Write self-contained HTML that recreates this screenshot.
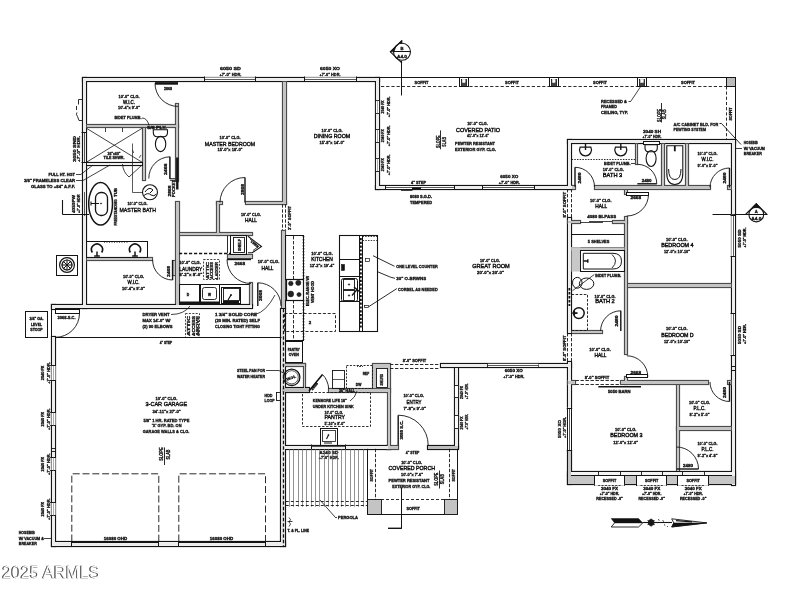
<!DOCTYPE html>
<html><head><meta charset="utf-8"><title>Floor Plan</title>
<style>
html,body{margin:0;padding:0;background:#fff;}
body{width:800px;height:600px;overflow:hidden;}
svg{display:block;will-change:transform;}
.t{font-family:"Liberation Sans",sans-serif;font-weight:bold;fill:#111;stroke:#111;stroke-width:.3;}
.tb{font-family:"Liberation Sans",sans-serif;font-weight:normal;fill:#111;stroke:#111;stroke-width:.4;}
.wm{font-family:"Liberation Sans",sans-serif;fill:#4a4a4a;stroke:#4a4a4a;stroke-width:.5;}
.wm2{font-family:"Liberation Sans",sans-serif;fill:#fff;stroke:none;}
</style></head><body>
<svg width="800" height="600" viewBox="0 0 800 600">
<rect x="0" y="0" width="800" height="600" fill="#fff"/>
<g fill="none" stroke="#141414" stroke-width="1">
<rect x="50.5" y="309.2" width="6" height="27.8" fill="#fff" stroke="none"/>
</g>
<g fill="none" stroke="#141414" stroke-width="1.2">
<rect x="82.5" y="77.5" width="297" height="4"/>
<rect x="82.5" y="77.5" width="4" height="231"/>
<rect x="86.5" y="124.5" width="92" height="3" stroke="#4c4c4c"/>
<rect x="175.5" y="103.5" width="3" height="78" stroke="#4c4c4c"/>
<rect x="175.5" y="201.5" width="4" height="104" stroke="#4c4c4c"/>
<rect x="142.5" y="127.5" width="3" height="53" stroke="#4c4c4c"/>
<rect x="86.5" y="257.5" width="66" height="3" stroke="#4c4c4c"/>
<rect x="172.5" y="260.5" width="3" height="15" stroke="#4c4c4c"/>
<rect x="179.5" y="232.5" width="73" height="3" stroke="#4c4c4c"/>
<rect x="216.5" y="201.5" width="3" height="34" stroke="#4c4c4c"/>
<rect x="216.5" y="201.5" width="6" height="3" stroke="#4c4c4c"/>
<rect x="245.5" y="201.5" width="41" height="3" stroke="#4c4c4c"/>
<rect x="282.5" y="81.5" width="4" height="123" stroke="#4c4c4c"/>
<rect x="281.5" y="230.5" width="4" height="78" stroke="#4c4c4c"/>
<rect x="280.5" y="308.5" width="5" height="238"/>
<rect x="375.5" y="77.5" width="4" height="112"/>
<rect x="375.5" y="185.5" width="197" height="4"/>
<rect x="227.5" y="254.5" width="25" height="4" stroke="#4c4c4c"/>
<rect x="249.5" y="282.5" width="3" height="24" stroke="#4c4c4c"/>
<rect x="51.5" y="304.5" width="201" height="4"/>
<rect x="51.5" y="304.5" width="4" height="5"/>
<rect x="51.5" y="336.5" width="4" height="210"/>
<rect x="51.5" y="541.5" width="234" height="5"/>
<rect x="567.5" y="139.5" width="4" height="50"/>
<rect x="567.5" y="217.5" width="4" height="116"/>
<rect x="567.5" y="361.5" width="4" height="47"/>
<rect x="567.5" y="139.5" width="168" height="4"/>
<rect x="731.5" y="139.5" width="4" height="346"/>
<rect x="635.5" y="143.5" width="2" height="21" stroke="#4c4c4c"/>
<rect x="661.5" y="143.5" width="3" height="45" stroke="#4c4c4c"/>
<rect x="685.5" y="143.5" width="3" height="45" stroke="#4c4c4c"/>
<rect x="594.5" y="185.5" width="116" height="4" stroke="#4c4c4c"/>
<rect x="571.5" y="185.5" width="4" height="4" stroke="#4c4c4c"/>
<rect x="727.5" y="185.5" width="4" height="4" stroke="#4c4c4c"/>
<rect x="624.5" y="189.5" width="3" height="5" stroke="#4c4c4c"/>
<rect x="624.5" y="216.5" width="3" height="138" stroke="#4c4c4c"/>
<rect x="567.5" y="220.5" width="13" height="3" stroke="#4c4c4c"/>
<rect x="612.5" y="220.5" width="15" height="3" stroke="#4c4c4c"/>
<rect x="627.5" y="283.5" width="104" height="4" stroke="#4c4c4c"/>
<rect x="571.5" y="330.5" width="31" height="3" stroke="#4c4c4c"/>
<rect x="624.5" y="376.5" width="3" height="8" stroke="#4c4c4c"/>
<rect x="620.5" y="380.5" width="88" height="4" stroke="#4c4c4c"/>
<rect x="727.5" y="380.5" width="4" height="4" stroke="#4c4c4c"/>
<rect x="567.5" y="380.5" width="8" height="4" stroke="#4c4c4c"/>
<rect x="676.5" y="384.5" width="3" height="87" stroke="#4c4c4c"/>
<rect x="676.5" y="426.5" width="55" height="4" stroke="#4c4c4c"/>
<rect x="440.5" y="363.5" width="131" height="4"/>
<rect x="454.5" y="367.5" width="4" height="81"/>
<rect x="427.5" y="445.5" width="31" height="4"/>
<rect x="386.5" y="445.5" width="12" height="4" stroke="#4c4c4c"/>
<rect x="283.5" y="445.5" width="107" height="4"/>
<rect x="328.5" y="388.5" width="62" height="4" stroke="#4c4c4c"/>
<rect x="387.5" y="388.5" width="3" height="61" stroke="#4c4c4c"/>
<rect x="567.5" y="471.5" width="168" height="4"/>
<rect x="567.5" y="475.5" width="168" height="9"/>
<rect x="567.5" y="450.5" width="4" height="34"/>
<rect x="86.5" y="162.5" width="56" height="3"/>
<rect x="281.5" y="363.5" width="24" height="3" stroke="#4c4c4c"/>
<rect x="303.5" y="363.5" width="2" height="26" stroke="#4c4c4c"/>
<rect x="281.5" y="387.5" width="28" height="5"/>
<rect x="372.5" y="363.5" width="18" height="25" stroke="#4c4c4c"/>
</g>
<g stroke="none">
<rect x="83" y="78" width="296" height="3" fill="#ededed"/>
<rect x="83" y="78" width="3" height="230" fill="#ededed"/>
<rect x="87" y="125" width="91" height="2" fill="#c4c4c4"/>
<rect x="176" y="104" width="2" height="77" fill="#c4c4c4"/>
<rect x="176" y="202" width="3" height="103" fill="#c4c4c4"/>
<rect x="143" y="128" width="2" height="52" fill="#c4c4c4"/>
<rect x="87" y="258" width="65" height="2" fill="#c4c4c4"/>
<rect x="173" y="261" width="2" height="14" fill="#c4c4c4"/>
<rect x="180" y="233" width="72" height="2" fill="#c4c4c4"/>
<rect x="217" y="202" width="2" height="33" fill="#c4c4c4"/>
<rect x="217" y="202" width="5" height="2" fill="#c4c4c4"/>
<rect x="246" y="202" width="40" height="2" fill="#c4c4c4"/>
<rect x="283" y="82" width="3" height="122" fill="#c4c4c4"/>
<rect x="282" y="231" width="3" height="77" fill="#c4c4c4"/>
<rect x="281" y="309" width="4" height="237" fill="#e4e4e4"/>
<rect x="376" y="78" width="3" height="111" fill="#ededed"/>
<rect x="376" y="186" width="196" height="3" fill="#ededed"/>
<rect x="228" y="255" width="24" height="3" fill="#c4c4c4"/>
<rect x="250" y="283" width="2" height="23" fill="#c4c4c4"/>
<rect x="52" y="305" width="200" height="3" fill="#ededed"/>
<rect x="52" y="305" width="3" height="4" fill="#ededed"/>
<rect x="52" y="337" width="3" height="209" fill="#ededed"/>
<rect x="52" y="542" width="233" height="4" fill="#ededed"/>
<rect x="568" y="140" width="3" height="49" fill="#ededed"/>
<rect x="568" y="218" width="3" height="115" fill="#ededed"/>
<rect x="568" y="362" width="3" height="46" fill="#ededed"/>
<rect x="568" y="140" width="167" height="3" fill="#ededed"/>
<rect x="732" y="140" width="3" height="345" fill="#ededed"/>
<rect x="636" y="144" width="1" height="20" fill="#c4c4c4"/>
<rect x="662" y="144" width="2" height="44" fill="#c4c4c4"/>
<rect x="686" y="144" width="2" height="44" fill="#c4c4c4"/>
<rect x="595" y="186" width="115" height="3" fill="#c4c4c4"/>
<rect x="572" y="186" width="3" height="3" fill="#c4c4c4"/>
<rect x="728" y="186" width="3" height="3" fill="#c4c4c4"/>
<rect x="625" y="190" width="2" height="4" fill="#c4c4c4"/>
<rect x="625" y="217" width="2" height="137" fill="#c4c4c4"/>
<rect x="568" y="221" width="12" height="2" fill="#c4c4c4"/>
<rect x="613" y="221" width="14" height="2" fill="#c4c4c4"/>
<rect x="628" y="284" width="103" height="3" fill="#c4c4c4"/>
<rect x="572" y="331" width="30" height="2" fill="#c4c4c4"/>
<rect x="625" y="377" width="2" height="7" fill="#c4c4c4"/>
<rect x="621" y="381" width="87" height="3" fill="#c4c4c4"/>
<rect x="728" y="381" width="3" height="3" fill="#c4c4c4"/>
<rect x="568" y="381" width="7" height="3" fill="#c4c4c4"/>
<rect x="677" y="385" width="2" height="86" fill="#c4c4c4"/>
<rect x="677" y="427" width="54" height="3" fill="#c4c4c4"/>
<rect x="441" y="364" width="130" height="3" fill="#ededed"/>
<rect x="455" y="368" width="3" height="80" fill="#ededed"/>
<rect x="428" y="446" width="30" height="3" fill="#bdbdbd"/>
<rect x="387" y="446" width="11" height="3" fill="#c4c4c4"/>
<rect x="284" y="446" width="106" height="3" fill="#ededed"/>
<rect x="329" y="389" width="61" height="3" fill="#c4c4c4"/>
<rect x="388" y="389" width="2" height="60" fill="#c4c4c4"/>
<rect x="568" y="472" width="167" height="3" fill="#f4f4f4"/>
<rect x="568" y="476" width="167" height="8" fill="#c6c6c6"/>
<rect x="568" y="451" width="3" height="33" fill="#c6c6c6"/>
<rect x="87" y="163" width="55" height="2" fill="#eee"/>
<rect x="282" y="364" width="23" height="2" fill="#c4c4c4"/>
<rect x="304" y="364" width="1" height="25" fill="#c4c4c4"/>
<rect x="282" y="388" width="27" height="4" fill="#bdbdbd"/>
<rect x="373" y="364" width="17" height="24" fill="#c4c4c4"/>
</g>
<g fill="none" stroke="#141414" stroke-width="1" stroke-linecap="butt">
<rect x="204.2" y="77.6" width="51.6" height="3" stroke-width="0.3" fill="#fff" stroke="#fff"/>
<line x1="204.2" y1="79.5" x2="255.8" y2="79.5" stroke-width="0.7"/>
<line x1="204.5" y1="76.5" x2="204.5" y2="81.7"/>
<line x1="255.5" y1="76.5" x2="255.5" y2="81.7"/>
<rect x="304.4" y="77.6" width="52" height="3" stroke-width="0.3" fill="#fff" stroke="#fff"/>
<line x1="304.4" y1="79.5" x2="356.4" y2="79.5" stroke-width="0.7"/>
<line x1="304.5" y1="76.5" x2="304.5" y2="81.7"/>
<line x1="356.5" y1="76.5" x2="356.5" y2="81.7"/>
<text class="t" x="230.5" y="70.3" font-size="4.2" textLength="21" lengthAdjust="spacingAndGlyphs" text-anchor="middle">6050 SD</text>
<text class="t" x="230.5" y="75.6" font-size="4.2" textLength="22" lengthAdjust="spacingAndGlyphs" text-anchor="middle">+7'-0&quot; HDR.</text>
<text class="t" x="330" y="70.3" font-size="4.2" textLength="20" lengthAdjust="spacingAndGlyphs" text-anchor="middle">6050 XO</text>
<text class="t" x="330" y="75.6" font-size="4.2" textLength="21" lengthAdjust="spacingAndGlyphs" text-anchor="middle">+7'-0&quot; HDR.</text>
<line x1="178" y1="83.4" x2="155" y2="83.4" stroke-width="2.6"/>
<path d="M155 83.4 A23 23 0 0 0 178 106.4" stroke-width="0.9"/>
<text class="t" x="168" y="89.5" font-size="3.8" textLength="8" lengthAdjust="spacingAndGlyphs" text-anchor="middle">2868</text>
<text class="t" x="129" y="97.5" font-size="4.2" textLength="21" lengthAdjust="spacingAndGlyphs" text-anchor="middle">10'-0&quot; CLG.</text>
<text class="tb" x="129" y="103.5" font-size="5" textLength="12" lengthAdjust="spacingAndGlyphs" text-anchor="middle">W.I.C.</text>
<text class="t" x="129" y="109.1" font-size="4.2" textLength="22" lengthAdjust="spacingAndGlyphs" text-anchor="middle">10'-4&quot;x 9'-0&quot;</text>
<text class="t" x="114.5" y="119.3" font-size="4.2" textLength="27" lengthAdjust="spacingAndGlyphs">BIDET PLUMB.</text>
<path d="M142 118 Q147 118 149 125" stroke-width="0.8"/>
<path d="M82 99.5 H78.5 V104.5 M76.5 106 V110 M77 112.5 Q75.5 114 77.5 116.5 L79 120.5 H82" stroke-width="0.9"/>
<line x1="86" y1="128" x2="142.5" y2="162.5" stroke-width="0.8"/>
<line x1="142.5" y1="128" x2="86" y2="162.5" stroke-width="0.8"/>
<line x1="105.5" y1="128" x2="105.5" y2="132" stroke-width="0.8"/>
<line x1="122.5" y1="128" x2="122.5" y2="132" stroke-width="0.8"/>
<text class="t" x="114" y="154.6" font-size="3.8" textLength="13" lengthAdjust="spacingAndGlyphs" text-anchor="middle">36&quot;x60&quot;</text>
<text class="t" x="114" y="158.8" font-size="3.8" textLength="21" lengthAdjust="spacingAndGlyphs" text-anchor="middle">TILE SHWR.</text>
<line x1="84.5" y1="132" x2="84.5" y2="162" stroke-width="0.7"/>
<line x1="81.5" y1="132.5" x2="86.5" y2="132.5"/>
<line x1="81.5" y1="162.5" x2="86.5" y2="162.5"/>
<text class="t" x="75.5" y="162" font-size="4" textLength="26" lengthAdjust="spacingAndGlyphs" transform="rotate(-90 75.5 162)">3050 SND</text>
<text class="t" x="80" y="162" font-size="4" textLength="26" lengthAdjust="spacingAndGlyphs" transform="rotate(-90 80 162)">+7'-0&quot; HDR.</text>
<path d="M122.5 164 Q123 172 129 177" stroke-width="0.8"/>
<line x1="129" y1="177" x2="142" y2="165" stroke-width="0.8"/>
<line x1="132.5" y1="143.5" x2="132.5" y2="192.5" stroke-width="0.7"/>
<line x1="132.5" y1="192.5" x2="142.5" y2="192.5" stroke-width="0.7"/>
<path d="M132.5 150 l1.2 3 M141 155 l-2 3" stroke-width="0.7"/>
<circle cx="150" cy="192.3" r="7.5" stroke-width="1.1"/>
<path d="M145 192 Q149 186 153 190 L150 193 M144 195.5 Q148 192 151 195 Q154 197 156.5 194"/>
<text class="t" x="75" y="175.6" font-size="4" textLength="26.5" lengthAdjust="spacingAndGlyphs" text-anchor="end">FULL HT. HGT</text>
<line x1="76" y1="174.5" x2="81" y2="174.5" stroke-width="0.8"/>
<line x1="81" y1="174.3" x2="93" y2="165" stroke-width="0.8"/>
<text class="t" x="75" y="181.8" font-size="4" textLength="51" lengthAdjust="spacingAndGlyphs" text-anchor="end">3/8&quot; FRAMELESS CLEAR</text>
<line x1="76" y1="180.5" x2="83" y2="180.5" stroke-width="0.8"/>
<line x1="83" y1="180.5" x2="110" y2="165" stroke-width="0.8"/>
<text class="t" x="75" y="188.3" font-size="4" textLength="44" lengthAdjust="spacingAndGlyphs" text-anchor="end">GLASS TO +84&quot; A.F.F.</text>
<path d="M153.3 129.8 H167.5 V132.5 Q167.5 136.5 163.5 136.8 H157.3 Q153.3 136.5 153.3 132.5 Z" stroke-width="1.1"/>
<ellipse cx="160.6" cy="144" rx="5.2" ry="7.6" stroke-width="1.1"/>
<text class="t" x="157" y="128.8" font-size="3.6" textLength="19.5" lengthAdjust="spacingAndGlyphs" text-anchor="middle">5/8 PLY.</text>
<line x1="169.9" y1="179" x2="169.9" y2="156.8" stroke-width="1.5"/>
<path d="M169.9 156.8 A21.5 21.5 0 0 0 148.8 178.5" stroke-width="0.9"/>
<path d="M169.9 178.7 H175.6 M169.9 180.3 H175.6" stroke-width="0.9"/>
<line x1="177.3" y1="157.5" x2="177.3" y2="189.5" stroke-width="2.4"/>
<text class="t" x="166.8" y="175" font-size="3.6" textLength="11.5" lengthAdjust="spacingAndGlyphs" transform="rotate(-90 166.8 175)">2468</text>
<text class="t" x="170.6" y="196.5" font-size="3.6" textLength="11" lengthAdjust="spacingAndGlyphs" transform="rotate(-90 170.6 196.5)">2868</text>
<text class="t" x="174.6" y="197" font-size="3.6" textLength="17" lengthAdjust="spacingAndGlyphs" transform="rotate(-90 174.6 197)">POCKET</text>
<ellipse cx="100.6" cy="203.8" rx="11.9" ry="21.2" stroke-width="1.5"/>
<rect x="95.5" y="192.5" width="12" height="23" stroke-width="1.3" rx="5.5" ry="5.5"/>
<path d="M99 203.5 h-8 M91 201.5 v4" stroke-width="1.1"/>
<circle cx="101" cy="203.5" r="0.6" stroke-width="0.6" fill="#141414"/>
<text class="t" x="116.5" y="225.5" font-size="3.8" textLength="26" lengthAdjust="spacingAndGlyphs" transform="rotate(-90 116.5 225.5)">FREESTANDING</text>
<text class="t" x="116.5" y="197" font-size="3.8" textLength="9" lengthAdjust="spacingAndGlyphs" transform="rotate(-90 116.5 197)">TUB</text>
<text class="t" x="137.5" y="205.2" font-size="4.2" textLength="20" lengthAdjust="spacingAndGlyphs" text-anchor="middle">10'-0&quot; CLG.</text>
<text class="tb" x="137.7" y="212" font-size="6" textLength="36.5" lengthAdjust="spacingAndGlyphs" text-anchor="middle">MASTER BATH</text>
<line x1="84.5" y1="192" x2="84.5" y2="216" stroke-width="0.7"/>
<text class="t" x="74.5" y="213" font-size="4" textLength="18" lengthAdjust="spacingAndGlyphs" transform="rotate(-90 74.5 213)">4050PW</text>
<text class="t" x="79.5" y="213" font-size="4" textLength="18.5" lengthAdjust="spacingAndGlyphs" transform="rotate(-90 79.5 213)">+7'-0&quot; HDR</text>
<line x1="62.5" y1="200" x2="62.5" y2="214.5" stroke-width="1.1"/>
<line x1="62.5" y1="214.5" x2="89" y2="214.5"/>
<rect x="86.5" y="241.5" width="61" height="16"/>
<path d="M92.3 252.5 a5.5 5.5 0 1 1 9.4 0" stroke-width="1.6"/>
<line x1="94.2" y1="256" x2="99.8" y2="256" stroke-width="1.5"/>
<line x1="97" y1="251.5" x2="97" y2="256" stroke-width="1.5"/>
<path d="M130.3 252.5 a5.5 5.5 0 1 1 9.4 0" stroke-width="1.6"/>
<line x1="132.2" y1="256" x2="137.8" y2="256" stroke-width="1.5"/>
<line x1="135" y1="251.5" x2="135" y2="256" stroke-width="1.5"/>
<line x1="104" y1="242.5" x2="128" y2="242.5" stroke-width="0.6" stroke-dasharray="1 1.5"/>
<line x1="172.6" y1="260" x2="172.6" y2="280" stroke-width="1.4"/>
<path d="M172.6 280 A20 20 0 0 1 152.6 260" stroke-width="0.9"/>
<text class="t" x="170" y="277" font-size="3.8" textLength="11" lengthAdjust="spacingAndGlyphs" transform="rotate(-90 170 277)">2468</text>
<text class="t" x="133.5" y="277.5" font-size="4.2" textLength="21" lengthAdjust="spacingAndGlyphs" text-anchor="middle">10'-0&quot; CLG.</text>
<text class="tb" x="133.5" y="283.7" font-size="5" textLength="12" lengthAdjust="spacingAndGlyphs" text-anchor="middle">W.I.C.</text>
<text class="t" x="133.5" y="289.5" font-size="4.2" textLength="23" lengthAdjust="spacingAndGlyphs" text-anchor="middle">10'-4&quot;x 9'-0&quot;</text>
<rect x="56.5" y="255.5" width="21" height="20"/>
<circle cx="67" cy="265" r="7.4" stroke-width="1.2"/>
<circle cx="67" cy="265" r="5" stroke-width="1.2"/>
<path d="M63 261 l8 8 M71 261 l-8 8 M67 259.5 v11 M61.5 265 h11"/>
<text class="t" x="230" y="139.2" font-size="4.2" textLength="21" lengthAdjust="spacingAndGlyphs" text-anchor="middle">10'-0&quot; CLG.</text>
<text class="tb" x="230" y="145.5" font-size="6.2" textLength="50.5" lengthAdjust="spacingAndGlyphs" text-anchor="middle">MASTER BEDROOM</text>
<text class="t" x="230" y="151.2" font-size="4.2" textLength="25" lengthAdjust="spacingAndGlyphs" text-anchor="middle">15'-0&quot;x 18'-0&quot;</text>
<line x1="245" y1="202.5" x2="245" y2="177.5" stroke-width="1.4"/>
<path d="M245 177.5 A25 25 0 0 0 220 202.5" stroke-width="0.9"/>
<text class="t" x="243.5" y="195" font-size="3.8" textLength="11" lengthAdjust="spacingAndGlyphs" transform="rotate(-90 243.5 195)">2868</text>
<text class="t" x="332" y="131.5" font-size="4.2" textLength="21" lengthAdjust="spacingAndGlyphs" text-anchor="middle">10'-0&quot; CLG.</text>
<text class="tb" x="332" y="137.7" font-size="5.6" textLength="36.5" lengthAdjust="spacingAndGlyphs" text-anchor="middle">DINING ROOM</text>
<text class="t" x="332" y="143.5" font-size="4.2" textLength="25" lengthAdjust="spacingAndGlyphs" text-anchor="middle">15'-8&quot;x 14'-0&quot;</text>
<rect x="375.5" y="100.5" width="4" height="13" stroke-width="0.9" fill="#fff"/>
<line x1="377.5" y1="100.2" x2="377.5" y2="113.6" stroke-width="0.6" stroke="#777"/>
<text class="t" x="384.4" y="113.4" font-size="3.6" textLength="13" lengthAdjust="spacingAndGlyphs" transform="rotate(-90 384.4 113.4)">2040 FX</text>
<text class="t" x="390.3" y="117.3" font-size="3.6" textLength="20.8" lengthAdjust="spacingAndGlyphs" transform="rotate(-90 390.3 117.3)">+7'-0&quot; HDR.</text>
<rect x="375.5" y="129.5" width="4" height="13" stroke-width="0.9" fill="#fff"/>
<line x1="377.5" y1="129.5" x2="377.5" y2="142" stroke-width="0.6" stroke="#777"/>
<text class="t" x="384.4" y="142.25" font-size="3.6" textLength="13" lengthAdjust="spacingAndGlyphs" transform="rotate(-90 384.4 142.25)">2040 FX</text>
<text class="t" x="390.3" y="146.15" font-size="3.6" textLength="20.8" lengthAdjust="spacingAndGlyphs" transform="rotate(-90 390.3 146.15)">+7'-0&quot; HDR.</text>
<rect x="375.5" y="158.5" width="4" height="13" stroke-width="0.9" fill="#fff"/>
<line x1="377.5" y1="158.5" x2="377.5" y2="171" stroke-width="0.6" stroke="#777"/>
<text class="t" x="384.4" y="171.25" font-size="3.6" textLength="13" lengthAdjust="spacingAndGlyphs" transform="rotate(-90 384.4 171.25)">2040 FX</text>
<text class="t" x="390.3" y="175.15" font-size="3.6" textLength="20.8" lengthAdjust="spacingAndGlyphs" transform="rotate(-90 390.3 175.15)">+7'-0&quot; HDR.</text>
<line x1="282.5" y1="204.3" x2="282.5" y2="230" stroke-width="0.9" stroke-dasharray="3.4 1.6"/>
<line x1="285.5" y1="204.3" x2="285.5" y2="230" stroke-width="0.9" stroke-dasharray="3.4 1.6"/>
<text class="t" x="290.5" y="230" font-size="3.8" textLength="24" lengthAdjust="spacingAndGlyphs" transform="rotate(-90 290.5 230)">3'-0&quot; SOFFIT</text>
<text class="t" x="251" y="216" font-size="4.2" textLength="20" lengthAdjust="spacingAndGlyphs" text-anchor="middle">10'-0&quot; CLG.</text>
<text class="tb" x="251" y="222.3" font-size="5.2" textLength="12" lengthAdjust="spacingAndGlyphs" text-anchor="middle">HALL</text>
<text class="t" x="268.5" y="263.3" font-size="4.2" textLength="21.5" lengthAdjust="spacingAndGlyphs" text-anchor="middle">10'-0&quot; CLG.</text>
<text class="tb" x="267.5" y="269.8" font-size="5.2" textLength="12" lengthAdjust="spacingAndGlyphs" text-anchor="middle">HALL</text>
<rect x="230.5" y="235.5" width="16" height="19"/>
<rect x="233.5" y="237.5" width="11" height="15" stroke-width="0.9"/>
<text class="t" x="240.5" y="251" font-size="3.6" textLength="12" lengthAdjust="spacingAndGlyphs" transform="rotate(-90 240.5 251)">SHELF</text>
<path d="M248 236.3 L261.5 246.5 L252.2 252.8 L248 252.8" stroke-width="1.1"/>
<path d="M250 239 L258.5 246.5 L253 250.5" stroke-width="0.8"/>
<text class="t" x="250.5" y="242" font-size="3.2" textLength="9" lengthAdjust="spacingAndGlyphs" transform="rotate(40 250.5 242)">LINEN</text>
<line x1="227.5" y1="235.7" x2="227.5" y2="253.3" stroke-width="0.9"/>
<line x1="179" y1="253.5" x2="230" y2="253.5" stroke-width="1.3" stroke-dasharray="3.2 1.8"/>
<line x1="251" y1="259.5" x2="227" y2="259.5" stroke-width="1.4"/>
<path d="M227 259.5 A24 24 0 0 0 251 283.5" stroke-width="0.9"/>
<text class="t" x="239.8" y="264.8" font-size="3.8" textLength="10.5" lengthAdjust="spacingAndGlyphs" text-anchor="middle">2668</text>
<text class="t" x="179.3" y="264" font-size="4.2" textLength="21.5" lengthAdjust="spacingAndGlyphs">10'-0&quot; CLG.</text>
<text class="tb" x="179.3" y="270.6" font-size="5.4" textLength="23" lengthAdjust="spacingAndGlyphs">LAUNDRY</text>
<text class="t" x="179.3" y="276" font-size="4.2" textLength="23" lengthAdjust="spacingAndGlyphs">8'-2&quot;x 8'-0&quot;</text>
<rect x="203.5" y="259.5" width="16" height="20" stroke-width="0.8" stroke-dasharray="2 1.4"/>
<text class="t" x="208.5" y="279" font-size="4" textLength="17" lengthAdjust="spacingAndGlyphs" transform="rotate(-90 208.5 279)">ATTIC</text>
<text class="t" x="213" y="279" font-size="4" textLength="17" lengthAdjust="spacingAndGlyphs" transform="rotate(-90 213 279)">ACCESS</text>
<text class="t" x="218" y="279" font-size="4" textLength="17" lengthAdjust="spacingAndGlyphs" transform="rotate(-90 218 279)">LADDER</text>
<line x1="179" y1="284.5" x2="249.3" y2="284.5"/>
<rect x="179.5" y="284.5" width="20" height="19"/>
<text class="t" x="188" y="295.5" font-size="3.6" textLength="2.5" lengthAdjust="spacingAndGlyphs" text-anchor="middle">D</text>
<rect x="200.5" y="284.5" width="19" height="19"/>
<rect x="202.5" y="287.5" width="14" height="12" stroke-width="0.9" rx="2"/>
<text class="t" x="209.5" y="295.5" font-size="3.6" textLength="3" lengthAdjust="spacingAndGlyphs" text-anchor="middle">W</text>
<rect x="221.5" y="287.5" width="19" height="16"/>
<rect x="223.5" y="288.5" width="16" height="12" stroke-width="0.9"/>
<circle cx="231" cy="295" r="0.7" stroke-width="0.6" fill="#141414"/>
<path d="M231 295 l-3 5 M226 301.5 h8" stroke-width="1.2"/>
<line x1="179.5" y1="302.4" x2="219.5" y2="302.4" stroke-width="2"/>
<line x1="223" y1="302" x2="239" y2="302" stroke-width="2"/>
<line x1="257.8" y1="306" x2="257.8" y2="282.8" stroke-width="1.4"/>
<path d="M257.8 282.8 A23.2 23.2 0 0 1 281 306" stroke-width="0.9"/>
<text class="t" x="262" y="301" font-size="3.6" textLength="11" lengthAdjust="spacingAndGlyphs" transform="rotate(-90 262 301)">3068</text>
<rect x="25.5" y="311.5" width="22" height="26"/>
<text class="t" x="36.5" y="320.3" font-size="3.8" textLength="14" lengthAdjust="spacingAndGlyphs" text-anchor="middle">3/4&quot; GA.</text>
<text class="t" x="36.5" y="325.6" font-size="3.8" textLength="11" lengthAdjust="spacingAndGlyphs" text-anchor="middle">LEVEL</text>
<text class="t" x="36.5" y="331" font-size="3.8" textLength="12.5" lengthAdjust="spacingAndGlyphs" text-anchor="middle">STOOP</text>
<line x1="55.5" y1="313.5" x2="79.5" y2="313.5" stroke-width="0.1"/>
<path d="M79.5 313.3 A24 24 0 0 1 55.5 337.3" stroke-width="0.9"/>
<rect x="55.5" y="309.5" width="24" height="4" fill="#fff"/>
<line x1="51.5" y1="309" x2="51.5" y2="336.5"/>
<text class="t" x="57.5" y="319" font-size="3.8" textLength="18" lengthAdjust="spacingAndGlyphs">3068-S.C.</text>
<line x1="55.5" y1="337.5" x2="281.6" y2="337.5"/>
<text class="t" x="166" y="344" font-size="3.8" textLength="12.5" lengthAdjust="spacingAndGlyphs" text-anchor="middle">4&quot; STEP</text>
<rect x="51.8" y="365.8" width="3.4" height="14.2" stroke-width="0.4" fill="#fff" stroke="#fff"/>
<line x1="50.2" y1="365.5" x2="56" y2="365.5"/>
<line x1="50.2" y1="380.5" x2="56" y2="380.5"/>
<line x1="53.5" y1="365.8" x2="53.5" y2="380" stroke-width="0.6" stroke="#777"/>
<text class="t" x="44.3" y="380.2" font-size="3.8" textLength="14.6" lengthAdjust="spacingAndGlyphs" transform="rotate(-90 44.3 380.2)">2040 FX</text>
<text class="t" x="50" y="383.7" font-size="3.8" textLength="21.6" lengthAdjust="spacingAndGlyphs" transform="rotate(-90 50 383.7)">+7'-0&quot; HDR.</text>
<rect x="51.8" y="412.5" width="3.4" height="13.3" stroke-width="0.4" fill="#fff" stroke="#fff"/>
<line x1="50.2" y1="412.5" x2="56" y2="412.5"/>
<line x1="50.2" y1="425.5" x2="56" y2="425.5"/>
<line x1="53.5" y1="412.5" x2="53.5" y2="425.8" stroke-width="0.6" stroke="#777"/>
<text class="t" x="44.3" y="426.45" font-size="3.8" textLength="14.6" lengthAdjust="spacingAndGlyphs" transform="rotate(-90 44.3 426.45)">2040 FX</text>
<text class="t" x="50" y="429.95" font-size="3.8" textLength="21.6" lengthAdjust="spacingAndGlyphs" transform="rotate(-90 50 429.95)">+7'-0&quot; HDR.</text>
<rect x="51.8" y="457.5" width="3.4" height="13.3" stroke-width="0.4" fill="#fff" stroke="#fff"/>
<line x1="50.2" y1="457.5" x2="56" y2="457.5"/>
<line x1="50.2" y1="470.5" x2="56" y2="470.5"/>
<line x1="53.5" y1="457.5" x2="53.5" y2="470.8" stroke-width="0.6" stroke="#777"/>
<text class="t" x="44.3" y="471.45" font-size="3.8" textLength="14.6" lengthAdjust="spacingAndGlyphs" transform="rotate(-90 44.3 471.45)">2040 FX</text>
<text class="t" x="50" y="474.95" font-size="3.8" textLength="21.6" lengthAdjust="spacingAndGlyphs" transform="rotate(-90 50 474.95)">+7'-0&quot; HDR.</text>
<rect x="51.8" y="502.5" width="3.4" height="13.3" stroke-width="0.4" fill="#fff" stroke="#fff"/>
<line x1="50.2" y1="502.5" x2="56" y2="502.5"/>
<line x1="50.2" y1="515.5" x2="56" y2="515.5"/>
<line x1="53.5" y1="502.5" x2="53.5" y2="515.8" stroke-width="0.6" stroke="#777"/>
<text class="t" x="44.3" y="516.45" font-size="3.8" textLength="14.6" lengthAdjust="spacingAndGlyphs" transform="rotate(-90 44.3 516.45)">2040 FX</text>
<text class="t" x="50" y="519.95" font-size="3.8" textLength="21.6" lengthAdjust="spacingAndGlyphs" transform="rotate(-90 50 519.95)">+7'-0&quot; HDR.</text>
<line x1="51" y1="448.5" x2="56" y2="448.5" stroke-width="0.9"/>
<line x1="51" y1="451.5" x2="56" y2="451.5" stroke-width="0.9"/>
<text class="t" x="142.5" y="315.8" font-size="4" textLength="27" lengthAdjust="spacingAndGlyphs">DRYER VENT</text>
<text class="t" x="142.5" y="321.7" font-size="4" textLength="28" lengthAdjust="spacingAndGlyphs">MAX 14'-0&quot; W/</text>
<text class="t" x="142.5" y="327.5" font-size="4" textLength="30" lengthAdjust="spacingAndGlyphs">(2) 90 ELBOWS</text>
<path d="M171 314.5 Q184 314.5 190 306" stroke-width="0.8"/>
<rect x="185.5" y="313.5" width="14" height="24" stroke-width="0.8" stroke-dasharray="2 1.4"/>
<text class="t" x="190" y="336" font-size="3.8" textLength="20" lengthAdjust="spacingAndGlyphs" transform="rotate(-90 190 336)">ATTIC</text>
<text class="t" x="194.5" y="336" font-size="3.8" textLength="20" lengthAdjust="spacingAndGlyphs" transform="rotate(-90 194.5 336)">ACCESS</text>
<text class="t" x="198.5" y="336" font-size="3.8" textLength="20" lengthAdjust="spacingAndGlyphs" transform="rotate(-90 198.5 336)">ABOVE</text>
<text class="t" x="166.4" y="400.2" font-size="4.2" textLength="22" lengthAdjust="spacingAndGlyphs" text-anchor="middle">10'-0&quot; CLG.</text>
<text class="tb" x="166.4" y="406.2" font-size="5.8" textLength="41.8" lengthAdjust="spacingAndGlyphs" text-anchor="middle">3-CAR GARAGE</text>
<text class="t" x="166.7" y="412.5" font-size="4.2" textLength="28.3" lengthAdjust="spacingAndGlyphs" text-anchor="middle">34'-11&quot;x 27'-0&quot;</text>
<text class="t" x="166.4" y="421.5" font-size="4.4" textLength="46" lengthAdjust="spacingAndGlyphs" text-anchor="middle">5/8&quot; 1 HR. RATED TYPE</text>
<text class="t" x="166.7" y="427.3" font-size="4.4" textLength="29.7" lengthAdjust="spacingAndGlyphs" text-anchor="middle">'X' GYP. BD. ON</text>
<text class="t" x="166" y="433" font-size="4.4" textLength="46.7" lengthAdjust="spacingAndGlyphs" text-anchor="middle">GARAGE WALLS &amp; CLG.</text>
<text class="t" x="163.3" y="460.8" font-size="4.6" textLength="13.4" lengthAdjust="spacingAndGlyphs" transform="rotate(-90 163.3 460.8)">SLOPE</text>
<text class="t" x="169.6" y="459.5" font-size="4.6" textLength="10" lengthAdjust="spacingAndGlyphs" transform="rotate(-90 169.6 459.5)">SLAB</text>
<line x1="164.5" y1="447.4" x2="164.5" y2="465" stroke-width="0.9"/>
<path d="M71.8 541.5 V473.8 H158.8 V541.5" stroke-width="0.9" stroke-dasharray="7 2.8"/>
<line x1="71.5" y1="541.7" x2="71.5" y2="546.2"/>
<line x1="158.5" y1="541.7" x2="158.5" y2="546.2"/>
<line x1="71.8" y1="542.2" x2="158.8" y2="542.2" stroke-width="1.4"/>
<path d="M178.8 541.5 V473.8 H265.5 V541.5" stroke-width="0.9" stroke-dasharray="7 2.8"/>
<line x1="178.5" y1="541.7" x2="178.5" y2="546.2"/>
<line x1="265.5" y1="541.7" x2="265.5" y2="546.2"/>
<line x1="178.8" y1="542.2" x2="265.5" y2="542.2" stroke-width="1.4"/>
<text class="t" x="115.5" y="539.5" font-size="3.8" textLength="23.5" lengthAdjust="spacingAndGlyphs" text-anchor="middle">16080 OHD</text>
<text class="t" x="221.5" y="539.5" font-size="3.8" textLength="23.5" lengthAdjust="spacingAndGlyphs" text-anchor="middle">16080 OHD</text>
<text class="t" x="18.8" y="534" font-size="3.8" textLength="16" lengthAdjust="spacingAndGlyphs">HOSEBIB</text>
<text class="t" x="18.8" y="539.5" font-size="3.8" textLength="25" lengthAdjust="spacingAndGlyphs">W/ VACUUM &amp;</text>
<text class="t" x="18.8" y="544.8" font-size="3.8" textLength="18" lengthAdjust="spacingAndGlyphs">BREAKER</text>
<line x1="44" y1="538.5" x2="51" y2="538.5" stroke-width="0.8"/>
<line x1="283.5" y1="308.7" x2="283.5" y2="546" stroke-width="1.3" stroke-dasharray="3.5 2"/>
<text class="t" x="215" y="315.8" font-size="4" textLength="42" lengthAdjust="spacingAndGlyphs">1 3/4&quot; SOLID CORE</text>
<text class="t" x="215" y="322" font-size="4" textLength="45" lengthAdjust="spacingAndGlyphs">(20 MIN. RATED) SELF</text>
<text class="t" x="215" y="327.8" font-size="4" textLength="45" lengthAdjust="spacingAndGlyphs">CLOSING TIGHT FITTING</text>
<path d="M255 314.5 Q266 312 275 295" stroke-width="0.8"/>
<rect x="285.5" y="235.5" width="18" height="44"/>
<line x1="293.5" y1="236" x2="293.5" y2="279" stroke-width="0.9" stroke-dasharray="3.4 1.6"/>
<line x1="303.5" y1="236" x2="303.5" y2="279" stroke-width="1.6" stroke-dasharray="1.5 1.5"/>
<rect x="286.5" y="279.5" width="17" height="21" stroke-width="1.2"/>
<circle cx="290.8" cy="283.5" r="2.3" stroke-width="0.5" fill="#222"/>
<circle cx="298.3" cy="282.8" r="2.6" stroke-width="0.5" fill="#222"/>
<circle cx="290.8" cy="294" r="2.9" stroke-width="0.5" fill="#222"/>
<circle cx="299" cy="294.6" r="2.1" stroke-width="0.5" fill="#222"/>
<text class="t" x="308.6" y="306" font-size="3.8" textLength="30" lengthAdjust="spacingAndGlyphs" transform="rotate(-90 308.6 306)">ELEC. RANGE W/</text>
<text class="t" x="313.8" y="303" font-size="3.8" textLength="22" lengthAdjust="spacingAndGlyphs" transform="rotate(-90 313.8 303)">VENT HOOD</text>
<rect x="285.5" y="300.5" width="18" height="40"/>
<line x1="293.5" y1="300" x2="293.5" y2="340.5" stroke-width="0.9" stroke-dasharray="3.4 1.6"/>
<line x1="303.5" y1="300" x2="303.5" y2="340" stroke-width="1.6" stroke-dasharray="1.5 1.5"/>
<rect x="284.5" y="313.5" width="51" height="18" stroke-width="0.9" stroke-dasharray="3 1.8"/>
<text class="t" x="310" y="324.3" font-size="4.2" textLength="2.5" lengthAdjust="spacingAndGlyphs" text-anchor="middle">2</text>
<rect x="285.5" y="341.5" width="17" height="21"/>
<text class="t" x="293.8" y="351" font-size="3.6" textLength="12" lengthAdjust="spacingAndGlyphs" text-anchor="middle">PANTRY</text>
<text class="t" x="293.8" y="356.3" font-size="3.6" textLength="10" lengthAdjust="spacingAndGlyphs" text-anchor="middle">OVEN</text>
<text class="t" x="322" y="254.7" font-size="4.2" textLength="21.5" lengthAdjust="spacingAndGlyphs" text-anchor="middle">10'-0&quot; CLG.</text>
<text class="tb" x="322" y="260.8" font-size="5.2" textLength="21.5" lengthAdjust="spacingAndGlyphs" text-anchor="middle">KITCHEN</text>
<text class="t" x="322" y="266.7" font-size="4.2" textLength="24.5" lengthAdjust="spacingAndGlyphs" text-anchor="middle">12'-2&quot;x 19'-4&quot;</text>
<rect x="339.5" y="235.5" width="38" height="96" stroke-width="1.1"/>
<line x1="359.5" y1="235.5" x2="359.5" y2="331"/>
<line x1="362.5" y1="235.5" x2="362.5" y2="331"/>
<line x1="360.9" y1="238" x2="360.9" y2="329" stroke-width="1.8" stroke-dasharray="2.2 1.6"/>
<line x1="339.5" y1="259.5" x2="359" y2="259.5"/>
<line x1="339.5" y1="276.5" x2="359" y2="276.5"/>
<line x1="339.5" y1="301.5" x2="359" y2="301.5"/>
<rect x="341.5" y="264.5" width="3" height="6" stroke-width="0.6" fill="#141414"/>
<rect x="341.5" y="278.5" width="16" height="23" rx="2"/>
<rect x="343.5" y="279.5" width="11" height="10" stroke-width="0.9"/>
<rect x="343.5" y="290.5" width="11" height="10" stroke-width="0.9"/>
<circle cx="349" cy="284.5" r="0.7" stroke-width="0.6" fill="#141414"/>
<circle cx="349" cy="295.5" r="0.7" stroke-width="0.6" fill="#141414"/>
<path d="M357 289.5 l-5 6 M354 287 l6 5" stroke-width="1.3"/>
<rect x="362.5" y="236.5" width="15" height="4" stroke-width="0.8" stroke-dasharray="1.5 1.2"/>
<rect x="365.5" y="258.5" width="4" height="3" stroke-width="0.7"/>
<rect x="364.5" y="305.5" width="4" height="2" stroke-width="0.7"/>
<line x1="373" y1="255.7" x2="394.5" y2="266.3" stroke-width="0.9"/>
<path d="M377 271.5 L390.5 277.2 L395 278.3" stroke-width="0.9"/>
<line x1="369" y1="306.5" x2="396.8" y2="288.6" stroke-width="0.9"/>
<text class="t" x="396.2" y="267.8" font-size="4.2" textLength="41.5" lengthAdjust="spacingAndGlyphs">ONE LEVEL COUNTER</text>
<text class="t" x="396.2" y="279.8" font-size="4.2" textLength="30" lengthAdjust="spacingAndGlyphs">30&quot; O-BRWNS</text>
<text class="t" x="398" y="291" font-size="4.2" textLength="39.7" lengthAdjust="spacingAndGlyphs">CORBEL AS NEEDED</text>
<circle cx="291.7" cy="377.3" r="8.2" stroke-width="1.3"/>
<circle cx="291.7" cy="377.3" r="6.6" stroke-width="0.7"/>
<text class="t" x="291.7" y="379" font-size="3.8" textLength="10" lengthAdjust="spacingAndGlyphs" text-anchor="middle" transform="rotate(-20 291.7 379)">W.H.</text>
<text class="t" x="237" y="372" font-size="4" textLength="28" lengthAdjust="spacingAndGlyphs">STEEL PAN FOR</text>
<text class="t" x="237" y="378.3" font-size="4" textLength="28" lengthAdjust="spacingAndGlyphs">WATER HEATER</text>
<line x1="266" y1="370.5" x2="279" y2="370.5" stroke-width="0.8"/>
<path d="M279 370.5 L285 374" stroke-width="0.8"/>
<text class="t" x="264.5" y="396.5" font-size="3.8" textLength="8" lengthAdjust="spacingAndGlyphs">HDD</text>
<text class="t" x="264.5" y="401.5" font-size="3.8" textLength="10" lengthAdjust="spacingAndGlyphs">LOOP</text>
<rect x="276.5" y="392.5" width="4" height="8" stroke-width="0.9"/>
<path d="M309 391 L322.5 374.5" stroke-width="1.6"/>
<path d="M322.5 374.5 Q328 380 328.8 389" stroke-width="0.9"/>
<text class="t" x="312.5" y="390.5" font-size="3.4" textLength="9" lengthAdjust="spacingAndGlyphs" transform="rotate(-50 312.5 390.5)">2868</text>
<rect x="332.5" y="370.5" width="12" height="18" stroke-width="0.9"/>
<line x1="332.8" y1="379.5" x2="344.8" y2="379.5" stroke-width="0.7"/>
<rect x="346.5" y="365.5" width="26" height="23" stroke-width="0.9" stroke-dasharray="2 1.4"/>
<text class="t" x="366" y="375" font-size="3.4" textLength="6.5" lengthAdjust="spacingAndGlyphs" text-anchor="middle">REF</text>
<text class="t" x="358.5" y="386.3" font-size="3.4" textLength="5.5" lengthAdjust="spacingAndGlyphs" text-anchor="middle">DW</text>
<path d="M357 367 l1.5 -1.5 l1.5 1.5 l1.5 -1.5 l1.5 1.5" stroke-width="0.8"/>
<rect x="376.5" y="368.5" width="11" height="19" stroke-width="0.9" fill="#fff"/>
<text class="t" x="383.2" y="385.5" font-size="3.2" textLength="11.5" lengthAdjust="spacingAndGlyphs" transform="rotate(-90 383.2 385.5)">SHELVES</text>
<line x1="390" y1="364.5" x2="440" y2="364.5" stroke-width="0.9" stroke-dasharray="3.4 1.6"/>
<line x1="390" y1="368.5" x2="440" y2="368.5" stroke-width="0.9" stroke-dasharray="3.4 1.6"/>
<text class="t" x="414.4" y="362" font-size="3.8" textLength="23.5" lengthAdjust="spacingAndGlyphs" text-anchor="middle">8'-0&quot; SOFFIT</text>
<text class="t" x="347" y="391.7" font-size="3.6" textLength="16" lengthAdjust="spacingAndGlyphs" text-anchor="middle">36&quot; HALL</text>
<path d="M357 391 Q355 398 350 401" stroke-width="0.8"/>
<rect x="302.5" y="392.5" width="68" height="34" stroke-width="0.9" stroke-dasharray="2.4 1.6"/>
<text class="t" x="312.8" y="401.5" font-size="4" textLength="34" lengthAdjust="spacingAndGlyphs">KENMORE LIFE 18&quot;</text>
<text class="t" x="312.8" y="407.6" font-size="4" textLength="41" lengthAdjust="spacingAndGlyphs">UNDER KITCHEN SINK</text>
<text class="t" x="333.8" y="413.6" font-size="4.2" textLength="18.5" lengthAdjust="spacingAndGlyphs" text-anchor="middle">10'-0&quot; CLG.</text>
<text class="tb" x="334.8" y="419.2" font-size="5.4" textLength="20.5" lengthAdjust="spacingAndGlyphs" text-anchor="middle">PANTRY</text>
<text class="t" x="334.8" y="425" font-size="4.2" textLength="20.5" lengthAdjust="spacingAndGlyphs" text-anchor="middle">5'-10&quot;x 8'-0&quot;</text>
<rect x="320.5" y="428.5" width="17" height="17"/>
<rect x="322.5" y="430.5" width="13" height="11" stroke-width="0.8"/>
<circle cx="328.5" cy="435" r="0.6" stroke-width="0.6" fill="#141414"/>
<path d="M328.5 435 l-2 4 M324 443 h8" stroke-width="1.1"/>
<line x1="311.5" y1="444.5" x2="311.5" y2="449.3"/>
<line x1="345.5" y1="444.5" x2="345.5" y2="449.3"/>
<line x1="311" y1="446.5" x2="345" y2="446.5" stroke-width="0.7"/>
<text class="t" x="328.8" y="453.5" font-size="3.8" textLength="19" lengthAdjust="spacingAndGlyphs" text-anchor="middle">A340 SD</text>
<text class="t" x="328.8" y="459" font-size="3.8" textLength="20" lengthAdjust="spacingAndGlyphs" text-anchor="middle">+7'-0&quot; HDR.</text>
<line x1="289.5" y1="449.2" x2="289.5" y2="506.8" stroke-width="0.7" stroke="#666"/>
<line x1="293.5" y1="449.2" x2="293.5" y2="506.8" stroke-width="0.7" stroke="#666"/>
<line x1="298.5" y1="449.2" x2="298.5" y2="506.8" stroke-width="0.7" stroke="#666"/>
<line x1="302.5" y1="449.2" x2="302.5" y2="506.8" stroke-width="0.7" stroke="#666"/>
<line x1="306.5" y1="449.2" x2="306.5" y2="506.8" stroke-width="0.7" stroke="#666"/>
<line x1="311.5" y1="449.2" x2="311.5" y2="506.8" stroke-width="0.7" stroke="#666"/>
<line x1="315.5" y1="449.2" x2="315.5" y2="506.8" stroke-width="0.7" stroke="#666"/>
<line x1="319.5" y1="449.2" x2="319.5" y2="506.8" stroke-width="0.7" stroke="#666"/>
<line x1="324.5" y1="449.2" x2="324.5" y2="506.8" stroke-width="0.7" stroke="#666"/>
<line x1="328.5" y1="449.2" x2="328.5" y2="506.8" stroke-width="0.7" stroke="#666"/>
<line x1="332.5" y1="449.2" x2="332.5" y2="506.8" stroke-width="0.7" stroke="#666"/>
<line x1="337.5" y1="449.2" x2="337.5" y2="506.8" stroke-width="0.7" stroke="#666"/>
<line x1="341.5" y1="449.2" x2="341.5" y2="506.8" stroke-width="0.7" stroke="#666"/>
<line x1="345.5" y1="449.2" x2="345.5" y2="506.8" stroke-width="0.7" stroke="#666"/>
<line x1="350.5" y1="449.2" x2="350.5" y2="506.8" stroke-width="0.7" stroke="#666"/>
<line x1="354.5" y1="449.2" x2="354.5" y2="506.8" stroke-width="0.7" stroke="#666"/>
<line x1="358.5" y1="449.2" x2="358.5" y2="506.8" stroke-width="0.7" stroke="#666"/>
<line x1="363.5" y1="449.2" x2="363.5" y2="506.8" stroke-width="0.7" stroke="#666"/>
<line x1="285.8" y1="501.5" x2="367.5" y2="501.5" stroke-width="0.9" stroke-dasharray="3 2"/>
<line x1="285.8" y1="505.5" x2="367.5" y2="505.5" stroke-width="0.9" stroke-dasharray="3 2"/>
<rect x="367.5" y="499.5" width="14" height="15" stroke-width="0.9" fill="#c4c4c4"/>
<line x1="367.5" y1="448.8" x2="367.5" y2="514"/>
<line x1="375.5" y1="448.8" x2="375.5" y2="500" stroke-width="0.9" stroke-dasharray="3.4 1.6"/>
<text class="t" x="372.8" y="481.5" font-size="3.8" textLength="12.5" lengthAdjust="spacingAndGlyphs" transform="rotate(-90 372.8 481.5)">SOFFIT</text>
<line x1="381" y1="499.5" x2="444" y2="499.5" stroke-width="0.9" stroke-dasharray="3 2"/>
<line x1="367.5" y1="514.5" x2="457.5" y2="514.5"/>
<line x1="320" y1="500" x2="335" y2="517" stroke-width="0.8"/>
<line x1="335" y1="517.5" x2="337" y2="517.5" stroke-width="0.8"/>
<text class="t" x="338" y="519" font-size="4" textLength="20" lengthAdjust="spacingAndGlyphs">PERGOLA</text>
<path d="M289 517.5 q3 2 0 4.5 q3 2 0 4.5 M287.5 521.5 h5" stroke-width="0.8"/>
<text class="t" x="287.5" y="532.3" font-size="3.8" textLength="21.5" lengthAdjust="spacingAndGlyphs">T. &amp; PL. LINE</text>
<line x1="388" y1="528.3" x2="401.7" y2="528.3" stroke-width="1.4"/>
<line x1="401.5" y1="487.8" x2="401.5" y2="528.8"/>
<line x1="454" y1="385.5" x2="458.5" y2="385.5"/>
<line x1="454" y1="397.5" x2="458.5" y2="397.5"/>
<line x1="456.5" y1="385.6" x2="456.5" y2="397.9" stroke-width="0.7"/>
<rect x="454.5" y="385.5" width="4" height="12" stroke-width="0.8" fill="#fff"/>
<text class="t" x="462.8" y="398.9" font-size="3.6" textLength="13" lengthAdjust="spacingAndGlyphs" transform="rotate(-90 462.8 398.9)">2040 FX</text>
<text class="t" x="467.8" y="398.9" font-size="3.6" textLength="15.5" lengthAdjust="spacingAndGlyphs" transform="rotate(-90 467.8 398.9)">+7'-0&quot; HDR.</text>
<line x1="454" y1="415.5" x2="458.5" y2="415.5"/>
<line x1="454" y1="428.5" x2="458.5" y2="428.5"/>
<line x1="456.5" y1="415.4" x2="456.5" y2="428.5" stroke-width="0.7"/>
<rect x="454.5" y="415.5" width="4" height="13" stroke-width="0.8" fill="#fff"/>
<text class="t" x="462.8" y="429.5" font-size="3.6" textLength="13" lengthAdjust="spacingAndGlyphs" transform="rotate(-90 462.8 429.5)">2040 FX</text>
<text class="t" x="467.8" y="429.5" font-size="3.6" textLength="15.5" lengthAdjust="spacingAndGlyphs" transform="rotate(-90 467.8 429.5)">+7'-0&quot; HDR.</text>
<text class="t" x="413.7" y="397" font-size="4.2" textLength="20.5" lengthAdjust="spacingAndGlyphs" text-anchor="middle">10'-0&quot; CLG.</text>
<text class="tb" x="414" y="404.2" font-size="6" textLength="15" lengthAdjust="spacingAndGlyphs" text-anchor="middle">ENTRY</text>
<text class="t" x="414.8" y="409.8" font-size="4.2" textLength="22.5" lengthAdjust="spacingAndGlyphs" text-anchor="middle">7'-8&quot;x 9'-0&quot;</text>
<line x1="398.2" y1="445.2" x2="398.2" y2="415.2" stroke-width="1.4"/>
<path d="M398.2 415.2 A30 30 0 0 1 428.2 445.2" stroke-width="0.9"/>
<text class="t" x="403" y="439.5" font-size="3.6" textLength="19" lengthAdjust="spacingAndGlyphs" transform="rotate(-90 403 439.5)">3080 S.C.</text>
<text class="t" x="412.5" y="454.3" font-size="3.8" textLength="13.5" lengthAdjust="spacingAndGlyphs" text-anchor="middle">4&quot; STEP</text>
<text class="t" x="411.7" y="463.5" font-size="4.2" textLength="21" lengthAdjust="spacingAndGlyphs" text-anchor="middle">10'-0&quot; CLG.</text>
<text class="tb" x="388.5" y="469.5" font-size="5.4" textLength="46.5" lengthAdjust="spacingAndGlyphs">COVERED PORCH</text>
<text class="t" x="412" y="475.6" font-size="4.2" textLength="22" lengthAdjust="spacingAndGlyphs" text-anchor="middle">10'-0&quot;x 7'-6&quot;</text>
<text class="t" x="388.5" y="482.3" font-size="4" textLength="41" lengthAdjust="spacingAndGlyphs">PEWTER RESISTANT</text>
<text class="t" x="392.3" y="488.2" font-size="4" textLength="38" lengthAdjust="spacingAndGlyphs">EXTERIOR GYP. CLG.</text>
<text class="t" x="438.3" y="485.7" font-size="4.6" textLength="13" lengthAdjust="spacingAndGlyphs" transform="rotate(-90 438.3 485.7)">SLOPE</text>
<text class="t" x="444.2" y="484.2" font-size="4.6" textLength="10" lengthAdjust="spacingAndGlyphs" transform="rotate(-90 444.2 484.2)">SLAB</text>
<line x1="439.5" y1="470.5" x2="439.5" y2="488.5" stroke-width="0.9"/>
<text class="t" x="455" y="481.5" font-size="3.8" textLength="12.5" lengthAdjust="spacingAndGlyphs" transform="rotate(-90 455 481.5)">SOFFIT</text>
<line x1="457.5" y1="448.8" x2="457.5" y2="514"/>
<line x1="449.5" y1="448.8" x2="449.5" y2="500" stroke-width="0.9" stroke-dasharray="3.4 1.6"/>
<rect x="444.5" y="499.5" width="13" height="15" stroke-width="0.9" fill="#c4c4c4"/>
<text class="t" x="413.2" y="509.5" font-size="3.8" textLength="13.5" lengthAdjust="spacingAndGlyphs" text-anchor="middle">SOFFIT</text>
<line x1="401.5" y1="61" x2="401.5" y2="95.5"/>
<circle cx="402" cy="51.8" r="8.5" stroke-width="1.1"/>
<line x1="393.5" y1="51.5" x2="410.5" y2="51.5"/>
<path d="M402 40.5 L390.3 51.8 L402 63" stroke-width="1.1"/>
<path d="M390.3 51.8 L396 46.3 L394 51.8 Z" stroke-width="0.6" fill="#141414"/>
<path d="M402 40.5 L399.5 43 L402 43.3 Z" stroke-width="0.6" fill="#141414"/>
<text class="t" x="402" y="49.8" font-size="4" textLength="3" lengthAdjust="spacingAndGlyphs" text-anchor="middle">B</text>
<text class="t" x="402" y="57.5" font-size="4" textLength="10" lengthAdjust="spacingAndGlyphs" text-anchor="middle">A4.0</text>
<circle cx="756.3" cy="214.5" r="7.4" stroke-width="1.1"/>
<line x1="712.5" y1="214.5" x2="767.5" y2="214.5"/>
<path d="M745.5 214.5 L756.3 203.8 L767 214.5" stroke-width="1.1"/>
<path d="M756.3 203.3 L752.3 207.6 L760.3 207.6 Z" stroke-width="0.5" fill="#141414"/>
<text class="t" x="756.3" y="212.5" font-size="4" textLength="3" lengthAdjust="spacingAndGlyphs" text-anchor="middle">A</text>
<text class="t" x="756.3" y="220" font-size="4" textLength="10" lengthAdjust="spacingAndGlyphs" text-anchor="middle">A4.0</text>
<line x1="379.5" y1="77.5" x2="735" y2="77.5"/>
<line x1="381" y1="86.5" x2="726.5" y2="86.5" stroke-width="0.9" stroke-dasharray="3.2 2"/>
<line x1="735.5" y1="77.3" x2="735.5" y2="139.3"/>
<line x1="726.5" y1="86.3" x2="726.5" y2="139" stroke-width="0.9" stroke-dasharray="3.2 2"/>
<rect x="459.5" y="77.5" width="9" height="9"/>
<rect x="461.5" y="79.5" width="5" height="7" stroke-width="0.8" fill="#444"/>
<rect x="462.5" y="79.3" width="2.6" height="3.2" stroke-width="0.5" fill="#fff" stroke="#fff"/>
<rect x="549.5" y="77.5" width="9" height="9"/>
<rect x="551.5" y="79.5" width="5" height="7" stroke-width="0.8" fill="#444"/>
<rect x="552.5" y="79.3" width="2.6" height="3.2" stroke-width="0.5" fill="#fff" stroke="#fff"/>
<rect x="637.5" y="77.5" width="9" height="9"/>
<rect x="639.5" y="79.5" width="5" height="7" stroke-width="0.8" fill="#444"/>
<rect x="640.7" y="79.3" width="2.6" height="3.2" stroke-width="0.5" fill="#fff" stroke="#fff"/>
<rect x="726.5" y="77.5" width="9" height="9" fill="#bbb"/>
<text class="t" x="421.5" y="83.6" font-size="3.8" textLength="14" lengthAdjust="spacingAndGlyphs" text-anchor="middle">SOFFIT</text>
<text class="t" x="512" y="83.6" font-size="3.8" textLength="14" lengthAdjust="spacingAndGlyphs" text-anchor="middle">SOFFIT</text>
<text class="t" x="600" y="83.6" font-size="3.8" textLength="14" lengthAdjust="spacingAndGlyphs" text-anchor="middle">SOFFIT</text>
<text class="t" x="688" y="83.6" font-size="3.8" textLength="14" lengthAdjust="spacingAndGlyphs" text-anchor="middle">SOFFIT</text>
<text class="t" x="732" y="120.6" font-size="3.8" textLength="13" lengthAdjust="spacingAndGlyphs" transform="rotate(-90 732 120.6)">SOFFIT</text>
<text class="t" x="477.5" y="125.3" font-size="4.2" textLength="20.5" lengthAdjust="spacingAndGlyphs" text-anchor="middle">10'-0&quot; CLG.</text>
<text class="tb" x="478" y="131.6" font-size="5.6" textLength="44" lengthAdjust="spacingAndGlyphs" text-anchor="middle">COVERED PATIO</text>
<text class="t" x="478" y="137.2" font-size="4.2" textLength="22" lengthAdjust="spacingAndGlyphs" text-anchor="middle">41'-0&quot;x 12'-6&quot;</text>
<text class="t" x="455" y="145" font-size="4" textLength="40" lengthAdjust="spacingAndGlyphs">PEWTER RESISTANT</text>
<text class="t" x="455" y="151.3" font-size="4" textLength="41" lengthAdjust="spacingAndGlyphs">EXTERIOR GYP. CLG.</text>
<text class="t" x="439.7" y="148" font-size="5" textLength="12.6" lengthAdjust="spacingAndGlyphs" transform="rotate(-90 439.7 148)">SLOPE</text>
<text class="t" x="445.7" y="146.7" font-size="5" textLength="9.7" lengthAdjust="spacingAndGlyphs" transform="rotate(-90 445.7 146.7)">SLAB</text>
<line x1="440.5" y1="130.4" x2="440.5" y2="149.3" stroke-width="0.9"/>
<text class="t" x="601" y="102.5" font-size="4" textLength="26" lengthAdjust="spacingAndGlyphs">RECESSED &amp;</text>
<text class="t" x="601" y="108.3" font-size="4" textLength="16" lengthAdjust="spacingAndGlyphs">FRAMED</text>
<text class="t" x="601" y="113.8" font-size="4" textLength="27" lengthAdjust="spacingAndGlyphs">CEILING, TYP.</text>
<line x1="628.5" y1="101.5" x2="631" y2="101.5" stroke-width="0.8"/>
<line x1="631" y1="101" x2="641" y2="86" stroke-width="0.8"/>
<text class="t" x="660.6" y="121.9" font-size="5" textLength="13" lengthAdjust="spacingAndGlyphs" transform="rotate(-90 660.6 121.9)">SLOPE</text>
<text class="t" x="666.5" y="119.3" font-size="5" textLength="9.8" lengthAdjust="spacingAndGlyphs" transform="rotate(-90 666.5 119.3)">SLAB</text>
<line x1="661.5" y1="103" x2="661.5" y2="122.5" stroke-width="0.9"/>
<text class="t" x="673.6" y="126" font-size="4.2" textLength="44.8" lengthAdjust="spacingAndGlyphs">A/C CABINET BLD. FOR</text>
<text class="t" x="673.6" y="130.6" font-size="4.2" textLength="32.4" lengthAdjust="spacingAndGlyphs">PEWTING SYSTEM</text>
<line x1="719.5" y1="123.5" x2="721.5" y2="123.5" stroke-width="0.9"/>
<line x1="721.5" y1="123.5" x2="741" y2="144.5" stroke-width="0.9"/>
<text class="t" x="652" y="132.5" font-size="3.8" textLength="18" lengthAdjust="spacingAndGlyphs" text-anchor="middle">3040 SH</text>
<text class="t" x="652" y="137.6" font-size="3.8" textLength="19" lengthAdjust="spacingAndGlyphs" text-anchor="middle">+7'-0&quot; HDR.</text>
<text class="t" x="743.8" y="144" font-size="3.8" textLength="14" lengthAdjust="spacingAndGlyphs">HOSEBIB</text>
<text class="t" x="743.8" y="149.6" font-size="3.8" textLength="21" lengthAdjust="spacingAndGlyphs">W/ VACUUM</text>
<text class="t" x="743.8" y="155.2" font-size="3.8" textLength="18" lengthAdjust="spacingAndGlyphs">BREAKER</text>
<line x1="735" y1="148.5" x2="742" y2="148.5" stroke-width="0.8"/>
<rect x="385" y="186.2" width="69.5" height="2.5" stroke-width="0.4" fill="#fff" stroke="#fff"/>
<line x1="385" y1="187.5" x2="454.5" y2="187.5" stroke-width="0.7"/>
<line x1="385.5" y1="185.2" x2="385.5" y2="189.7"/>
<line x1="454.5" y1="185.2" x2="454.5" y2="189.7"/>
<rect x="482.5" y="186.2" width="52" height="2.5" stroke-width="0.4" fill="#fff" stroke="#fff"/>
<line x1="482.5" y1="187.5" x2="534.5" y2="187.5" stroke-width="0.7"/>
<line x1="482.5" y1="185.2" x2="482.5" y2="189.7"/>
<line x1="534.5" y1="185.2" x2="534.5" y2="189.7"/>
<line x1="412" y1="188.2" x2="421" y2="188.2" stroke-width="1.7"/>
<line x1="401" y1="190.5" x2="412.5" y2="190.5" stroke-width="0.8"/>
<text class="t" x="418.5" y="183.8" font-size="3.8" textLength="15" lengthAdjust="spacingAndGlyphs" text-anchor="middle">4&quot; STEP</text>
<text class="t" x="509.3" y="178.2" font-size="3.8" textLength="18" lengthAdjust="spacingAndGlyphs" text-anchor="middle">6050 XO</text>
<text class="t" x="509.3" y="183.8" font-size="3.8" textLength="21" lengthAdjust="spacingAndGlyphs" text-anchor="middle">+7'-0&quot; HDR.</text>
<text class="t" x="421" y="198" font-size="3.8" textLength="22" lengthAdjust="spacingAndGlyphs" text-anchor="middle">8080 S.G.D.</text>
<text class="t" x="421" y="203.8" font-size="3.8" textLength="22" lengthAdjust="spacingAndGlyphs" text-anchor="middle">TEMPERED</text>
<text class="t" x="490" y="261.5" font-size="4.2" textLength="20" lengthAdjust="spacingAndGlyphs" text-anchor="middle">10'-0&quot; CLG.</text>
<text class="tb" x="491" y="267.8" font-size="5.6" textLength="37.5" lengthAdjust="spacingAndGlyphs" text-anchor="middle">GREAT ROOM</text>
<text class="t" x="490.5" y="273.8" font-size="4.2" textLength="27" lengthAdjust="spacingAndGlyphs" text-anchor="middle">20'-0&quot;x 20'-0&quot;</text>
<line x1="567.5" y1="189" x2="567.5" y2="217" stroke-width="0.9" stroke-dasharray="3.4 1.6"/>
<line x1="571.5" y1="189" x2="571.5" y2="217" stroke-width="0.9" stroke-dasharray="3.4 1.6"/>
<text class="t" x="566" y="217.5" font-size="3.8" textLength="25.5" lengthAdjust="spacingAndGlyphs" transform="rotate(-90 566 217.5)">8'-0&quot; SOFFIT</text>
<line x1="567.5" y1="333" x2="567.5" y2="361.8" stroke-width="0.9" stroke-dasharray="3.4 1.6"/>
<line x1="571.5" y1="333" x2="571.5" y2="361.8" stroke-width="0.9" stroke-dasharray="3.4 1.6"/>
<text class="t" x="566" y="361" font-size="3.8" textLength="25.5" lengthAdjust="spacingAndGlyphs" transform="rotate(-90 566 361)">8'-0&quot; SOFFIT</text>
<line x1="487.5" y1="363" x2="487.5" y2="367.5"/>
<line x1="538.5" y1="363" x2="538.5" y2="367.5"/>
<rect x="488" y="364" width="50.3" height="2.5" stroke-width="0.4" fill="#fff" stroke="#fff"/>
<line x1="487.5" y1="365.5" x2="538.8" y2="365.5" stroke-width="0.7"/>
<text class="t" x="513.8" y="372" font-size="3.8" textLength="18" lengthAdjust="spacingAndGlyphs" text-anchor="middle">6050 XO</text>
<text class="t" x="513.8" y="377.6" font-size="3.8" textLength="21" lengthAdjust="spacingAndGlyphs" text-anchor="middle">+7'-0&quot; HDR.</text>
<line x1="571.6" y1="159.5" x2="635" y2="159.5" stroke-width="0.9" stroke-dasharray="1.5 1.2"/>
<path d="M580.2 147 a6 6 0 1 0 10.6 0 Z" stroke-width="1.25"/>
<line x1="585.5" y1="144" x2="585.5" y2="150" stroke-width="1.4"/>
<path d="M615.5 147 a6 6 0 1 0 10.6 0 Z" stroke-width="1.25"/>
<line x1="620.8" y1="144" x2="620.8" y2="150" stroke-width="1.4"/>
<text class="t" x="604" y="164.5" font-size="4" textLength="26.5" lengthAdjust="spacingAndGlyphs">BIDET PLUMB.</text>
<line x1="631" y1="163.5" x2="635" y2="163.5" stroke-width="0.8"/>
<text class="t" x="613.3" y="171.2" font-size="4.2" textLength="21" lengthAdjust="spacingAndGlyphs" text-anchor="middle">10'-0&quot; CLG.</text>
<text class="tb" x="612.5" y="176.8" font-size="5.4" textLength="19.5" lengthAdjust="spacingAndGlyphs" text-anchor="middle">BATH 3</text>
<line x1="575" y1="186.8" x2="575" y2="167.3" stroke-width="1.4"/>
<path d="M575 167.3 A19.5 19.5 0 0 1 594.5 186.8" stroke-width="0.9"/>
<text class="t" x="580.5" y="183.5" font-size="3.6" textLength="11" lengthAdjust="spacingAndGlyphs" transform="rotate(-90 580.5 183.5)">2480</text>
<line x1="637.3" y1="183.8" x2="656.8" y2="183.8" stroke-width="1.4"/>
<path d="M656.8 183.8 A19.5 19.5 0 0 0 637.3 164.3" stroke-width="0.9"/>
<text class="t" x="646.6" y="182" font-size="3.6" textLength="9.8" lengthAdjust="spacingAndGlyphs" text-anchor="middle">2480</text>
<rect x="643.5" y="141.5" width="16" height="3" fill="#fff"/>
<path d="M645 144.8 H657.3 V148 Q657.3 151.5 654 151.8 H648.3 Q645 151.5 645 148 Z" stroke-width="1.1"/>
<ellipse cx="651.1" cy="158.5" rx="5" ry="8" stroke-width="1.1"/>
<path d="M666.8 145.8 H682.8 V173 Q682.8 184.5 674.8 184.5 Q666.8 184.5 666.8 173 Z" stroke-width="1.1"/>
<path d="M668.6 169 Q668.6 179.5 674.8 179.5 Q681 179.5 681 169"/>
<path d="M674.8 145.8 v5.5" stroke-width="1.8"/>
<text class="t" x="707.5" y="154.6" font-size="4.2" textLength="20" lengthAdjust="spacingAndGlyphs" text-anchor="middle">10'-0&quot; CLG.</text>
<text class="tb" x="707.5" y="161.3" font-size="5" textLength="12" lengthAdjust="spacingAndGlyphs" text-anchor="middle">W.I.C.</text>
<text class="t" x="707.5" y="167.3" font-size="4.2" textLength="20" lengthAdjust="spacingAndGlyphs" text-anchor="middle">9'-0&quot;x 5'-0&quot;</text>
<line x1="729.5" y1="187.5" x2="729.5" y2="168" stroke-width="1.4"/>
<path d="M729.5 168 A19.5 19.5 0 0 0 710 187.5" stroke-width="0.9"/>
<text class="t" x="725.5" y="183.5" font-size="3.6" textLength="11" lengthAdjust="spacingAndGlyphs" transform="rotate(-90 725.5 183.5)">2480</text>
<line x1="626.8" y1="194.5" x2="648.5" y2="194.5" stroke-width="0.1"/>
<path d="M648.5 194.3 A21.7 21.7 0 0 1 626.8 216" stroke-width="0.9"/>
<rect x="626.5" y="192.5" width="22" height="3" fill="#fff"/>
<text class="t" x="635.8" y="199.2" font-size="3.6" textLength="10.5" lengthAdjust="spacingAndGlyphs" text-anchor="middle">2668</text>
<text class="t" x="600.8" y="202" font-size="4.2" textLength="21.5" lengthAdjust="spacingAndGlyphs" text-anchor="middle">10'-0&quot; CLG.</text>
<text class="tb" x="601.3" y="208.3" font-size="5.2" textLength="12" lengthAdjust="spacingAndGlyphs" text-anchor="middle">HALL</text>
<text class="t" x="601.7" y="218.3" font-size="4" textLength="29" lengthAdjust="spacingAndGlyphs" text-anchor="middle">4080 BI-PASS</text>
<line x1="589" y1="221.5" x2="612" y2="221.5" stroke-width="0.8"/>
<line x1="580.3" y1="222.5" x2="603" y2="222.5" stroke-width="0.8"/>
<line x1="571.6" y1="234.5" x2="624.2" y2="234.5"/>
<line x1="571.6" y1="247.5" x2="624.2" y2="247.5"/>
<text class="t" x="598.6" y="243" font-size="3.8" textLength="21.5" lengthAdjust="spacingAndGlyphs" text-anchor="middle">5 SHELVES</text>
<rect x="571.6" y="247.5" width="8.7" height="23.8" stroke-width="0.3" fill="#c8c8c8" stroke="#c8c8c8"/>
<rect x="571.6" y="247.5" width="52.6" height="2.8" stroke-width="0.3" fill="#c8c8c8" stroke="#c8c8c8"/>
<rect x="580.5" y="250.5" width="44" height="21"/>
<path d="M583.3 253.3 H613 Q621.5 253.3 621.5 261.2 Q621.5 269 613 269 H583.3 Z"/>
<path d="M612 254.5 Q619 261 612 268" stroke-width="0.9"/>
<path d="M583.3 261 h4.5 M587.8 259.3 v3.5" stroke-width="1.4"/>
<text class="t" x="595.3" y="277.3" font-size="4" textLength="26" lengthAdjust="spacingAndGlyphs">BIDET PLUMB.</text>
<line x1="594.3" y1="274.5" x2="572.5" y2="290.7" stroke-width="0.8"/>
<ellipse cx="577.3" cy="282.8" rx="4.8" ry="5.4"/>
<ellipse cx="586.6" cy="283.7" rx="7.2" ry="5.7"/>
<text class="t" x="605" y="297.5" font-size="4.2" textLength="21" lengthAdjust="spacingAndGlyphs" text-anchor="middle">10'-0&quot; CLG.</text>
<text class="tb" x="605" y="303.3" font-size="5.4" textLength="19.5" lengthAdjust="spacingAndGlyphs" text-anchor="middle">BATH 2</text>
<rect x="571.5" y="294.5" width="16" height="36" stroke-width="0.9" stroke-dasharray="2.6 1.5"/>
<circle cx="578.8" cy="313.1" r="5.4" stroke-width="1.5"/>
<line x1="572.5" y1="313.1" x2="577.5" y2="313.1" stroke-width="1.8"/>
<line x1="574.5" y1="310.8" x2="574.5" y2="315.4" stroke-width="1.2"/>
<line x1="569.4" y1="288" x2="569.4" y2="306" stroke-width="1.8" stroke-dasharray="2.5 1.5"/>
<line x1="620.8" y1="331" x2="620.8" y2="310.8" stroke-width="1.4"/>
<path d="M620.8 310.8 A20.2 20.2 0 0 0 600.6 331" stroke-width="0.9"/>
<text class="t" x="618" y="326.5" font-size="3.6" textLength="11" lengthAdjust="spacingAndGlyphs" transform="rotate(-90 618 326.5)">2480</text>
<text class="t" x="600" y="351.2" font-size="4.2" textLength="21.5" lengthAdjust="spacingAndGlyphs" text-anchor="middle">10'-0&quot; CLG.</text>
<text class="tb" x="600.5" y="357.3" font-size="5.2" textLength="12" lengthAdjust="spacingAndGlyphs" text-anchor="middle">HALL</text>
<line x1="626.8" y1="376.5" x2="647.8" y2="376.5" stroke-width="0.1"/>
<path d="M647.8 376.8 A21 21 0 0 0 626.8 355.8" stroke-width="0.9"/>
<rect x="626.5" y="374.5" width="21" height="3" fill="#fff"/>
<text class="t" x="635.8" y="374" font-size="3.6" textLength="10.5" lengthAdjust="spacingAndGlyphs" text-anchor="middle">2668</text>
<line x1="575.5" y1="380.5" x2="620" y2="380.5" stroke-width="0.9" stroke-dasharray="3.4 1.6"/>
<line x1="575.5" y1="384.5" x2="620" y2="384.5" stroke-width="0.9" stroke-dasharray="3.4 1.6"/>
<text class="t" x="597" y="379" font-size="3.8" textLength="24.5" lengthAdjust="spacingAndGlyphs" text-anchor="middle">8'-0&quot; SOFFIT</text>
<line x1="598.3" y1="386.7" x2="641" y2="386.7" stroke-width="1.6"/>
<text class="t" x="619.3" y="393.3" font-size="3.8" textLength="22.5" lengthAdjust="spacingAndGlyphs" text-anchor="middle">5050 BARN</text>
<text class="t" x="676.8" y="240.5" font-size="4.2" textLength="21.5" lengthAdjust="spacingAndGlyphs" text-anchor="middle">10'-0&quot; CLG.</text>
<text class="tb" x="677.4" y="247" font-size="5.4" textLength="32.5" lengthAdjust="spacingAndGlyphs" text-anchor="middle">BEDROOM 4</text>
<text class="t" x="677" y="252.7" font-size="4.2" textLength="26" lengthAdjust="spacingAndGlyphs" text-anchor="middle">12'-0&quot;x 10'-10&quot;</text>
<text class="t" x="676.8" y="330.2" font-size="4.2" textLength="21.5" lengthAdjust="spacingAndGlyphs" text-anchor="middle">10'-0&quot; CLG.</text>
<text class="tb" x="677.4" y="337" font-size="5.4" textLength="32.5" lengthAdjust="spacingAndGlyphs" text-anchor="middle">BEDROOM D</text>
<text class="t" x="677" y="342.6" font-size="4.2" textLength="26" lengthAdjust="spacingAndGlyphs" text-anchor="middle">12'-0&quot;x 10'-10&quot;</text>
<rect x="731.5" y="215" width="3" height="41" stroke-width="0.4" fill="#fff" stroke="#fff"/>
<line x1="730.5" y1="215.5" x2="735.5" y2="215.5"/>
<line x1="730.5" y1="256.5" x2="735.5" y2="256.5"/>
<line x1="733.5" y1="215" x2="733.5" y2="256" stroke-width="0.7"/>
<text class="t" x="740.5" y="247.5" font-size="3.8" textLength="18" lengthAdjust="spacingAndGlyphs" transform="rotate(-90 740.5 247.5)">5050 SD</text>
<text class="t" x="745.5" y="247.5" font-size="3.8" textLength="20" lengthAdjust="spacingAndGlyphs" transform="rotate(-90 745.5 247.5)">+7'-0&quot; HDR.</text>
<rect x="731.5" y="313.8" width="3" height="41.2" stroke-width="0.4" fill="#fff" stroke="#fff"/>
<line x1="730.5" y1="313.5" x2="735.5" y2="313.5"/>
<line x1="730.5" y1="355.5" x2="735.5" y2="355.5"/>
<line x1="733.5" y1="313.8" x2="733.5" y2="355" stroke-width="0.7"/>
<text class="t" x="740.5" y="344" font-size="3.8" textLength="18" lengthAdjust="spacingAndGlyphs" transform="rotate(-90 740.5 344)">5050 SD</text>
<text class="t" x="745.5" y="344" font-size="3.8" textLength="20" lengthAdjust="spacingAndGlyphs" transform="rotate(-90 745.5 344)">+7'-0&quot; HDR.</text>
<line x1="731" y1="366.5" x2="736" y2="366.5"/>
<line x1="731" y1="370.5" x2="736" y2="370.5"/>
<line x1="729.5" y1="382" x2="729.5" y2="401.5" stroke-width="1.4"/>
<path d="M729.5 401.5 A19.5 19.5 0 0 1 710 382" stroke-width="0.9"/>
<text class="t" x="725.5" y="398" font-size="3.6" textLength="11" lengthAdjust="spacingAndGlyphs" transform="rotate(-90 725.5 398)">2480</text>
<text class="t" x="699.5" y="404" font-size="4.2" textLength="21" lengthAdjust="spacingAndGlyphs" text-anchor="middle">10'-0&quot; CLG.</text>
<text class="tb" x="699.5" y="410.3" font-size="5" textLength="12" lengthAdjust="spacingAndGlyphs" text-anchor="middle">P.L.C.</text>
<text class="t" x="699.5" y="415.8" font-size="4.2" textLength="20" lengthAdjust="spacingAndGlyphs" text-anchor="middle">8'-2&quot;x 5'-0&quot;</text>
<text class="t" x="707.5" y="444.5" font-size="4.2" textLength="20" lengthAdjust="spacingAndGlyphs" text-anchor="middle">10'-0&quot; CLG.</text>
<text class="tb" x="707.5" y="451" font-size="5" textLength="12" lengthAdjust="spacingAndGlyphs" text-anchor="middle">P.L.C.</text>
<text class="t" x="707.5" y="456.6" font-size="4.2" textLength="20" lengthAdjust="spacingAndGlyphs" text-anchor="middle">8'-2&quot;x 4'-8&quot;</text>
<line x1="676.5" y1="469" x2="698.5" y2="469" stroke-width="1.4"/>
<path d="M698.5 469 A22 22 0 0 0 676.5 447" stroke-width="0.9"/>
<text class="t" x="688" y="467" font-size="3.6" textLength="10" lengthAdjust="spacingAndGlyphs" text-anchor="middle">2480</text>
<text class="t" x="625.7" y="431.3" font-size="4.2" textLength="21.5" lengthAdjust="spacingAndGlyphs" text-anchor="middle">10'-0&quot; CLG.</text>
<text class="tb" x="626.4" y="437" font-size="5.4" textLength="32.3" lengthAdjust="spacingAndGlyphs" text-anchor="middle">BEDROOM 3</text>
<text class="t" x="625.7" y="443.8" font-size="4.2" textLength="25" lengthAdjust="spacingAndGlyphs" text-anchor="middle">12'-0&quot;x 12'-0&quot;</text>
<rect x="567.8" y="408" width="3.3" height="42.5" stroke-width="0.4" fill="#fff" stroke="#fff"/>
<line x1="566.8" y1="408.5" x2="572.1" y2="408.5"/>
<line x1="566.8" y1="450.5" x2="572.1" y2="450.5"/>
<line x1="569.5" y1="408" x2="569.5" y2="450.5" stroke-width="0.7"/>
<line x1="567.5" y1="408" x2="567.5" y2="450.5"/>
<line x1="571.5" y1="408" x2="571.5" y2="450.5"/>
<text class="t" x="561" y="438" font-size="3.8" textLength="18" lengthAdjust="spacingAndGlyphs" transform="rotate(-90 561 438)">5050 XO</text>
<text class="t" x="566" y="438" font-size="3.8" textLength="21" lengthAdjust="spacingAndGlyphs" transform="rotate(-90 566 438)">+7'-0&quot; HDR.</text>
<rect x="594.5" y="475.5" width="30" height="10" fill="#fff"/>
<line x1="594.8" y1="485" x2="624.2" y2="485" stroke-width="1.6" stroke="#fff"/>
<line x1="598.5" y1="471" x2="598.5" y2="475.5" stroke-width="0.9"/>
<line x1="620.5" y1="471" x2="620.5" y2="475.5" stroke-width="0.9"/>
<text class="t" x="609.5" y="481.8" font-size="3.6" textLength="13.5" lengthAdjust="spacingAndGlyphs" text-anchor="middle">SOFFIT</text>
<line x1="598.2" y1="485.5" x2="620.8" y2="485.5" stroke-width="0.8" stroke-dasharray="2 1.4"/>
<text class="t" x="609.5" y="489.8" font-size="3.6" textLength="17" lengthAdjust="spacingAndGlyphs" text-anchor="middle">3040 FX</text>
<text class="t" x="609.5" y="494.8" font-size="3.6" textLength="19.5" lengthAdjust="spacingAndGlyphs" text-anchor="middle">+7'-0&quot; HDR.</text>
<text class="t" x="609.5" y="500.3" font-size="3.6" textLength="26.5" lengthAdjust="spacingAndGlyphs" text-anchor="middle">RECESSED -0&quot;</text>
<rect x="636.5" y="475.5" width="30" height="10" fill="#fff"/>
<line x1="637.1" y1="485" x2="666.2" y2="485" stroke-width="1.6" stroke="#fff"/>
<line x1="641.5" y1="471" x2="641.5" y2="475.5" stroke-width="0.9"/>
<line x1="662.5" y1="471" x2="662.5" y2="475.5" stroke-width="0.9"/>
<text class="t" x="651.65" y="481.8" font-size="3.6" textLength="13.5" lengthAdjust="spacingAndGlyphs" text-anchor="middle">SOFFIT</text>
<line x1="640.5" y1="485.5" x2="662.8" y2="485.5" stroke-width="0.8" stroke-dasharray="2 1.4"/>
<text class="t" x="651.65" y="489.8" font-size="3.6" textLength="17" lengthAdjust="spacingAndGlyphs" text-anchor="middle">3040 FX</text>
<text class="t" x="651.65" y="494.8" font-size="3.6" textLength="19.5" lengthAdjust="spacingAndGlyphs" text-anchor="middle">+7'-0&quot; HDR.</text>
<text class="t" x="651.65" y="500.3" font-size="3.6" textLength="26.5" lengthAdjust="spacingAndGlyphs" text-anchor="middle">RECESSED -0&quot;</text>
<rect x="677.5" y="475.5" width="31" height="10" fill="#fff"/>
<line x1="678.1" y1="485" x2="708.2" y2="485" stroke-width="1.6" stroke="#fff"/>
<line x1="682.5" y1="471" x2="682.5" y2="475.5" stroke-width="0.9"/>
<line x1="704.5" y1="471" x2="704.5" y2="475.5" stroke-width="0.9"/>
<text class="t" x="693.15" y="481.8" font-size="3.6" textLength="13.5" lengthAdjust="spacingAndGlyphs" text-anchor="middle">SOFFIT</text>
<line x1="681.5" y1="485.5" x2="704.8" y2="485.5" stroke-width="0.8" stroke-dasharray="2 1.4"/>
<text class="t" x="693.15" y="489.8" font-size="3.6" textLength="17" lengthAdjust="spacingAndGlyphs" text-anchor="middle">3040 FX</text>
<text class="t" x="693.15" y="494.8" font-size="3.6" textLength="19.5" lengthAdjust="spacingAndGlyphs" text-anchor="middle">+7'-0&quot; HDR.</text>
<text class="t" x="693.15" y="500.3" font-size="3.6" textLength="26.5" lengthAdjust="spacingAndGlyphs" text-anchor="middle">RECESSED -0&quot;</text>
<path d="M611.2 518.5 L638.5 518.5 L642.8 522.9 L614.6 522.9 Z" stroke-width="0.5" fill="#111"/>
<path d="M614.6 522.9 L611.2 527 L638.5 527 L642.8 522.9" stroke-width="0.9"/>
<line x1="642.8" y1="522.5" x2="672" y2="522.5" stroke-width="1.1"/>
<circle cx="651.1" cy="522.6" r="3" stroke-width="0.8" fill="#222"/>
<path d="M651.1 518.6 v8 M647.6 520.6 l7 4 M647.6 524.6 l7 -4"/>
<path d="M671.7 518.8 L673.8 522.9 L671.7 527 L706.8 522.9 Z" stroke-width="0.9" fill="#fff"/>
<path d="M673.8 522.9 L671.7 527 L706.8 522.9 Z" stroke-width="0.5" fill="#111"/>
<path d="M676 520.6 L692 521.9" stroke-width="1.2"/>
<path d="M658 519.5 l1.5 .8 M662.5 520.5 l1.5 1 M664 524.5 l1.2 1 M667 526 l.8 .8" stroke-width="0.9"/>
<text class="wm" x="1.6" y="578.2" font-size="16.9" textLength="97.7" lengthAdjust="spacingAndGlyphs">2025 ARMLS</text>
<text class="wm2" x="2.5" y="578.4" font-size="16.9" textLength="97.7" lengthAdjust="spacingAndGlyphs">2025 ARMLS</text>
</g>
</svg>
</body></html>
